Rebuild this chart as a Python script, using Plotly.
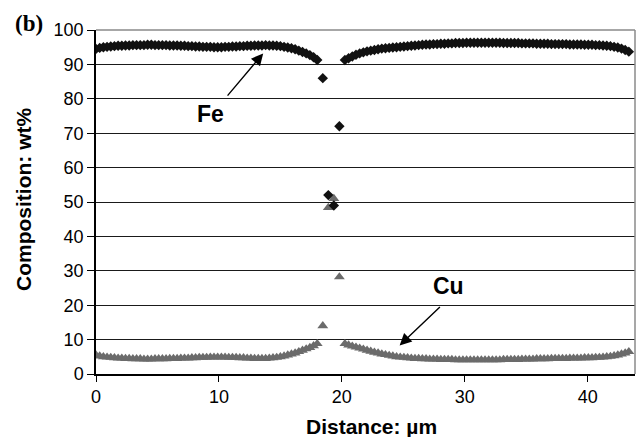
import plotly.graph_objects as go

# Sampling positions (µm)
dist_left = [0.0, 0.3, 0.6, 0.9, 1.2, 1.5, 1.8, 2.1, 2.4, 2.7, 3.0, 3.3, 3.6, 3.9, 4.2, 4.5, 4.8, 5.1, 5.4, 5.7,
             6.0, 6.3, 6.6, 6.9, 7.2, 7.5, 7.8, 8.1, 8.4, 8.7, 9.0, 9.3, 9.6, 9.9, 10.2, 10.5, 10.8, 11.1, 11.4, 11.7,
             12.0, 12.3, 12.6, 12.9, 13.2, 13.5, 13.8, 14.1, 14.4, 14.7, 15.0, 15.3, 15.6, 15.9, 16.2, 16.5, 16.8, 17.1, 17.4, 17.7,
             18.0]
dist_mid = [18.45, 18.9, 19.35, 19.8]
dist_right = [20.25, 20.55, 20.85, 21.15, 21.45, 21.75, 22.05, 22.35, 22.65, 22.95, 23.25, 23.55, 23.85, 24.15, 24.45, 24.75,
              25.05, 25.35, 25.65, 25.95, 26.25, 26.55, 26.85, 27.15, 27.45, 27.75, 28.05, 28.35, 28.65, 28.95, 29.25, 29.55,
              29.85, 30.15, 30.45, 30.75, 31.05, 31.35, 31.65, 31.95, 32.25, 32.55, 32.85, 33.15, 33.45, 33.75, 34.05, 34.35,
              34.65, 34.95, 35.25, 35.55, 35.85, 36.15, 36.45, 36.75, 37.05, 37.35, 37.65, 37.95, 38.25, 38.55, 38.85, 39.15,
              39.45, 39.75, 40.05, 40.35, 40.65, 40.95, 41.25, 41.55, 41.85, 42.15, 42.45, 42.75, 43.05, 43.35]

fe_left = [94.5, 94.8, 95.0, 95.1, 95.2, 95.3, 95.4, 95.4, 95.5, 95.5, 95.6, 95.6, 95.6, 95.6, 95.7, 95.7, 95.6, 95.6, 95.6, 95.6,
           95.5, 95.5, 95.5, 95.4, 95.4, 95.3, 95.3, 95.2, 95.2, 95.1, 95.1, 95.1, 95.0, 95.0, 95.0, 95.1, 95.1, 95.2, 95.2, 95.3,
           95.3, 95.4, 95.4, 95.5, 95.5, 95.5, 95.6, 95.5, 95.5, 95.4, 95.3, 95.1, 94.9, 94.7, 94.4, 94.0, 93.6, 93.2, 92.7, 92.1,
           91.3]
fe_mid = [86.0, 52.0, 49.0, 72.0]
fe_right = [91.3, 91.8, 92.3, 92.8, 93.2, 93.5, 93.8, 94.0, 94.2, 94.4, 94.6, 94.7, 94.8, 94.9, 95.0, 95.1,
            95.2, 95.3, 95.4, 95.5, 95.6, 95.7, 95.8, 95.8, 95.9, 95.9, 96.0, 96.0, 96.1, 96.1, 96.2, 96.2,
            96.2, 96.3, 96.3, 96.3, 96.3, 96.3, 96.3, 96.3, 96.3, 96.3, 96.3, 96.2, 96.2, 96.2, 96.2, 96.2,
            96.1, 96.1, 96.1, 96.1, 96.0, 96.0, 96.0, 96.0, 95.9, 95.9, 95.9, 95.9, 95.9, 95.8, 95.8, 95.8,
            95.8, 95.7, 95.7, 95.7, 95.6, 95.6, 95.5, 95.4, 95.3, 95.1, 94.9, 94.6, 94.2, 93.7]

cu_left = [5.5, 5.2, 5.0, 4.9, 4.8, 4.7, 4.6, 4.6, 4.5, 4.5, 4.4, 4.4, 4.4, 4.3, 4.3, 4.3, 4.4, 4.4, 4.4, 4.4,
           4.5, 4.5, 4.5, 4.6, 4.6, 4.6, 4.7, 4.7, 4.8, 4.8, 4.8, 4.9, 4.9, 4.9, 4.9, 4.9, 4.8, 4.8, 4.8, 4.7,
           4.7, 4.6, 4.6, 4.5, 4.5, 4.5, 4.5, 4.6, 4.7, 4.8, 5.0, 5.2, 5.5, 5.8, 6.1, 6.5, 6.9, 7.3, 7.7, 8.2,
           8.8]
cu_mid = [14.0, 48.4, 51.0, 28.2]
cu_right = [8.8, 8.4, 8.1, 7.8, 7.5, 7.2, 6.9, 6.6, 6.3, 6.1, 5.8, 5.6, 5.4, 5.2, 5.0, 4.9,
            4.8, 4.7, 4.6, 4.5, 4.5, 4.4, 4.4, 4.3, 4.3, 4.3, 4.2, 4.2, 4.2, 4.2, 4.1, 4.1,
            4.1, 4.1, 4.1, 4.1, 4.1, 4.1, 4.1, 4.1, 4.1, 4.1, 4.1, 4.2, 4.2, 4.2, 4.2, 4.2,
            4.3, 4.3, 4.3, 4.3, 4.4, 4.4, 4.4, 4.4, 4.5, 4.5, 4.5, 4.5, 4.5, 4.6, 4.6, 4.6,
            4.6, 4.7, 4.7, 4.7, 4.8, 4.8, 4.9, 5.0, 5.1, 5.3, 5.5, 5.8, 6.1, 6.5]

x_ticks = [0, 10, 20, 30, 40]
y_ticks = [0, 10, 20, 30, 40, 50, 60, 70, 80, 90, 100]

assert len(dist_left) == len(fe_left) == len(cu_left)
assert len(dist_right) == len(fe_right) == len(cu_right)

dist = dist_left + dist_mid + dist_right
fe = fe_left + fe_mid + fe_right
cu = cu_left + cu_mid + cu_right

W, H = 639, 437
L, R, T, B = 96, 4, 30, 63
pw, ph = W - L - R, H - T - B

def px(x):
    return (x - L) / pw

def py(y):
    return (H - B - y) / ph

fig = go.Figure()
fig.add_trace(go.Scatter(x=dist, y=cu, mode="markers", name="Cu",
                         marker=dict(symbol="triangle-up", size=9.5, color="#6b6b6b", line=dict(width=0))))
fig.add_trace(go.Scatter(x=dist, y=fe, mode="markers", name="Fe",
                         marker=dict(symbol="diamond", size=8, color="#111111", line=dict(width=0))))

font_main = "Liberation Sans, Arial, sans-serif"

fig.update_layout(
    width=W, height=H, margin=dict(l=L, r=R, t=T, b=B),
    paper_bgcolor="white", plot_bgcolor="white", showlegend=False,
    font=dict(family=font_main, size=18, color="black"),
    xaxis=dict(range=[0, 43.85], tickvals=x_ticks, showgrid=False, zeroline=False,
               showline=True, linecolor="black", linewidth=1.5, mirror=False,
               ticks="outside", ticklen=6, tickwidth=1.2, tickcolor="black",
               tickfont=dict(size=18, family=font_main)),
    yaxis=dict(range=[0, 100], tickvals=y_ticks, showgrid=True, gridcolor="#1a1a1a", gridwidth=1,
               zeroline=False, showline=True, linecolor="black", linewidth=1.5,
               ticks="outside", ticklen=7, tickwidth=1.2, tickcolor="black",
               tickfont=dict(size=18, family=font_main)),
)

# grey frame on top and right
fig.add_shape(type="line", xref="paper", yref="paper", x0=0, x1=1, y0=1, y1=1,
              line=dict(color="#8a8a8a", width=1.5))
fig.add_shape(type="line", xref="paper", yref="paper", x0=1, x1=1, y0=0, y1=1,
              line=dict(color="#8a8a8a", width=1.5))

# Axis titles
fig.add_annotation(text="<b>Distance: \u00b5m</b>", xref="paper", yref="paper",
                   x=px(371), y=py(426), showarrow=False, xanchor="center", yanchor="middle",
                   font=dict(size=21, family=font_main))
fig.add_annotation(text="<b>Composition: wt%</b>", xref="paper", yref="paper",
                   x=px(23), y=py(200), showarrow=False, textangle=-90, xanchor="center", yanchor="middle",
                   font=dict(size=21, family=font_main))
fig.add_annotation(text="<b>(b)</b>", xref="paper", yref="paper",
                   x=px(29), y=py(24), showarrow=False, xanchor="center", yanchor="middle",
                   font=dict(size=23, family="Liberation Serif, Times New Roman, serif"))

# Labels and arrows
fig.add_annotation(text="<b>Fe</b>", x=9.3, y=75.5, showarrow=False, xanchor="center", yanchor="middle",
                   font=dict(size=23, family=font_main))
fig.add_annotation(text="", x=13.6, y=93.2, ax=10.6, ay=80.5, axref="x", ayref="y",
                   showarrow=True, arrowhead=2, arrowsize=1.7, arrowwidth=1.4, arrowcolor="black")
fig.add_annotation(text="<b>Cu</b>", x=28.7, y=25.5, showarrow=False, xanchor="center", yanchor="middle",
                   font=dict(size=23, family=font_main))
fig.add_annotation(text="", x=24.7, y=8.3, ax=28.1, ay=19.9, axref="x", ayref="y",
                   showarrow=True, arrowhead=2, arrowsize=1.7, arrowwidth=1.4, arrowcolor="black")

fig.write_html("out.html")
